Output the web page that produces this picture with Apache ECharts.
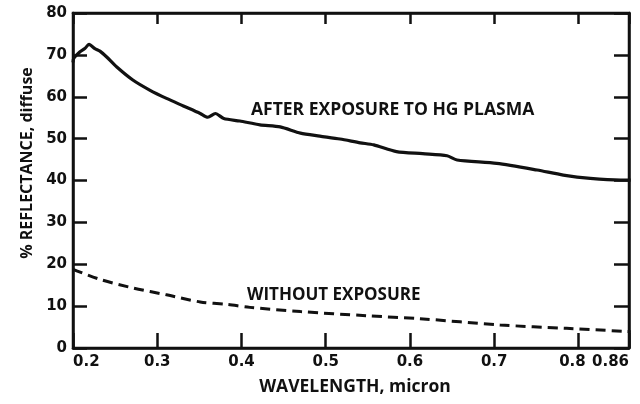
<!DOCTYPE html>
<html><head><meta charset="utf-8">
<script src="https://cdn.jsdelivr.net/npm/echarts@6/dist/echarts.min.js"></script>
<style>html,body{margin:0;padding:0;background:#fff}#c{width:640px;height:404px}</style>
</head><body><div id="c"></div>
<script>
// Wavelength (micron) and % reflectance
const afterWl  = [0.200, 0.201, 0.208, 0.214, 0.219, 0.226, 0.232, 0.240, 0.252, 0.271, 0.291, 0.311, 0.331, 0.351, 0.360, 0.369, 0.379, 0.398, 0.422, 0.446, 0.470, 0.493, 0.517, 0.541, 0.557, 0.584, 0.615, 0.644, 0.656, 0.703, 0.751, 0.782, 0.814, 0.850, 0.862];
const afterVal = [68.2, 69.2, 70.7, 71.5, 72.5, 71.5, 70.9, 69.5, 67.1, 64.0, 61.6, 59.6, 57.8, 56.0, 55.1, 56.0, 54.8, 54.2, 53.3, 52.8, 51.3, 50.6, 49.9, 49.0, 48.5, 46.9, 46.4, 45.9, 44.9, 44.1, 42.5, 41.3, 40.5, 40.1, 40.1];
const withoutWl  = [0.200, 0.232, 0.272, 0.311, 0.351, 0.383, 0.410, 0.470, 0.549, 0.612, 0.707, 0.786, 0.862];
const withoutVal = [18.8, 16.4, 14.3, 12.7, 11.0, 10.4, 9.7, 8.7, 7.7, 7.0, 5.5, 4.7, 3.9];
const xTickLabels = ['0.2', '0.3', '0.4', '0.5', '0.6', '0.7', '0.8', '0.86'];
const yTickLabels = ['0', '10', '20', '30', '40', '50', '60', '70', '80'];
const labelAfter = 'AFTER EXPOSURE TO HG PLASMA';
const labelWithout = 'WITHOUT EXPOSURE';
const xTitle = 'WAVELENGTH, micron';
const yTitle = '% REFLECTANCE, diffuse';

const ink = '#111';
const tickFont = 'DejaVu Sans';
const textFont = 'Open Sans';

function pairs(xs, ys) { return xs.map((x, i) => [x, ys[i]]); }
const fmtX = v => {
  const s = xTickLabels.find(t => Math.abs(parseFloat(t) - v) < 1e-6);
  if (s === undefined) return String(v);
  return s === '0.8' ? '{l|' + s + '}' : s;
};
const fmtY = v => { const s = yTickLabels.find(t => Math.abs(parseFloat(t) - v) < 1e-6); return s !== undefined ? s : String(v); };
function axLine() { return {show: true, onZero: false, lineStyle: {color: ink, width: 2.5}}; }
function axTick(len) { return {show: true, inside: true, length: len, lineStyle: {color: ink, width: 2.5}}; }

const chart = echarts.init(document.getElementById('c'));
chart.setOption({
  backgroundColor: '#fff',
  animation: false,
  grid: {left: 73, right: 11, top: 13, bottom: 56, show: true, borderColor: ink, borderWidth: 2.5, backgroundColor: 'transparent'},
  xAxis: [{
    type: 'value', min: 0.2, max: 0.86, interval: 0.1, position: 'bottom',
    axisLine: axLine(), axisTick: axTick(15), splitLine: {show: false},
    axisLabel: {alignMinLabel: 'left', alignMaxLabel: 'right', formatter: fmtX, color: ink,
      fontFamily: tickFont, fontWeight: 'bold', fontSize: 15, margin: 7,
      rich: {l: {fontFamily: tickFont, fontWeight: 'bold', fontSize: 15, color: ink, padding: [0, 12, 0, 0]}}},
    name: xTitle, nameLocation: 'middle', nameGap: 30,
    nameTextStyle: {color: ink, fontFamily: textFont, fontWeight: 'bold', fontSize: 17.5, padding: [0, 0, 0, 8]}
  }, {
    type: 'value', min: 0.2, max: 0.86, interval: 0.1, position: 'top',
    axisLine: axLine(), axisTick: axTick(11), splitLine: {show: false}, axisLabel: {show: false}
  }],
  yAxis: [{
    type: 'value', min: 0, max: 80, interval: 10, position: 'left',
    axisLine: axLine(), axisTick: axTick(14), splitLine: {show: false},
    axisLabel: {formatter: fmtY, color: ink, fontFamily: tickFont, fontWeight: 'bold', fontSize: 15, margin: 6}
  }, {
    type: 'value', min: 0, max: 80, interval: 10, position: 'right',
    axisLine: axLine(), axisTick: axTick(15), splitLine: {show: false}, axisLabel: {show: false}
  }],
  series: [{
    type: 'line', xAxisIndex: 0, yAxisIndex: 0,
    data: pairs(afterWl, afterVal), showSymbol: false, smooth: 0.25,
    lineStyle: {color: ink, width: 3.2, type: 'solid'}
  }, {
    type: 'line', xAxisIndex: 0, yAxisIndex: 0,
    data: pairs(withoutWl, withoutVal), showSymbol: false, smooth: 0.3,
    lineStyle: {color: ink, width: 3, type: [10, 6]}
  }],
  graphic: [{
    type: 'text', x: 251, y: 110,
    style: {text: labelAfter, fill: ink, font: 'bold 17.5px "Open Sans"', align: 'left', verticalAlign: 'middle'}
  }, {
    type: 'text', x: 247, y: 295,
    style: {text: labelWithout, fill: ink, font: 'bold 17px "Open Sans"', align: 'left', verticalAlign: 'middle'}
  }, {
    type: 'text', x: 27, y: 163, rotation: Math.PI / 2,
    style: {text: yTitle, fill: ink, font: 'bold 16px "Open Sans"', align: 'center', verticalAlign: 'middle'}
  }]
});
</script></body></html>
